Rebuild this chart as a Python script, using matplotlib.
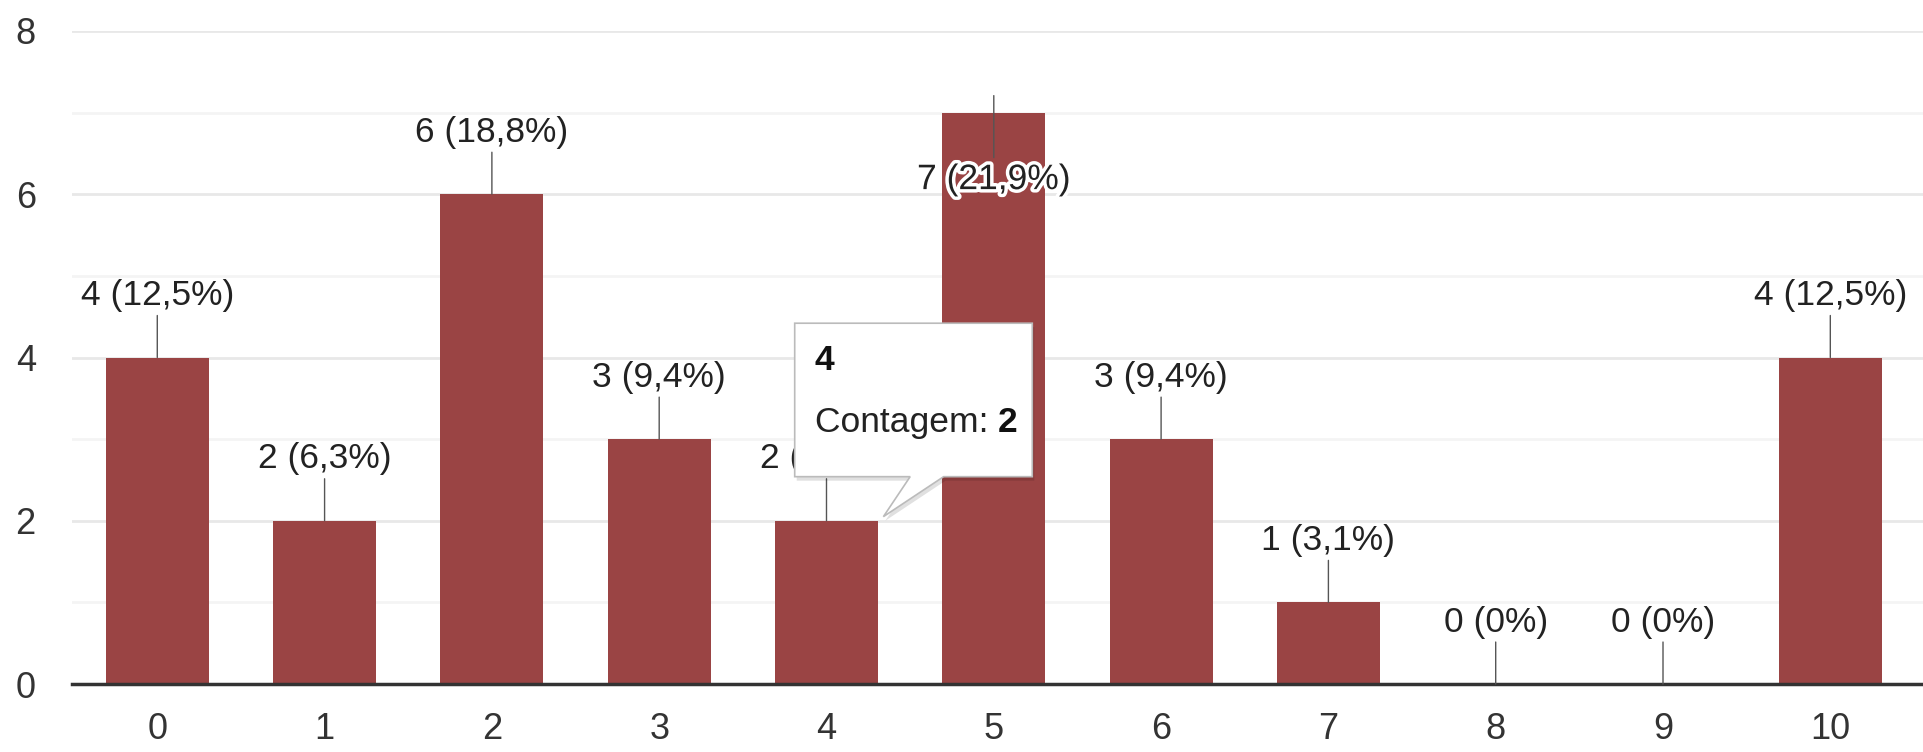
import matplotlib.pyplot as plt
import matplotlib.transforms as mtransforms
from matplotlib.patches import Polygon
import matplotlib.patheffects as pe

# data
categories = ['0', '1', '2', '3', '4', '5', '6', '7', '8', '9', '10']
counts = [4, 2, 6, 3, 2, 7, 3, 1, 0, 0, 4]
percents = [12.5, 6.3, 18.8, 9.4, 6.3, 21.9, 9.4, 3.1, 0, 0, 12.5]
y_ticks = [0, 2, 4, 6, 8]
tooltip_title = '4'
tooltip_label = 'Contagem: '
tooltip_value = '2'

bar_color = '#9a4444'
plt.rcParams['font.family'] = ['Liberation Sans', 'DejaVu Sans']
fsize = 25.5


def pct_label(v, p):
    if p == 0:
        return f"{v} (0%)"
    return f"{v} ({p:.1f}%)".replace('.', ',')


def run():
    fig = plt.figure(figsize=(19.24, 7.52), dpi=100)
    ax = fig.add_axes([0.0374, 0.0904, 0.9626, 0.8684])
    x = list(range(len(categories)))

    ax.bar(x, counts, width=0.616, color=bar_color, zorder=3)
    ax.set_xlim(-0.51, 10.56)
    ax.set_ylim(0, 8)

    # grid
    for v in [1, 3, 5, 7]:
        ax.axhline(v, color='#f4f4f4', lw=2, zorder=1)
    for v in [2, 4, 6, 8]:
        ax.axhline(v, color='#e8e8e8', lw=2, zorder=1)

    for s in ['top', 'right', 'left']:
        ax.spines[s].set_visible(False)
    ax.spines['bottom'].set_color('#333333')
    ax.spines['bottom'].set_linewidth(2.5)
    ax.spines['bottom'].set_zorder(4)

    ax.set_xticks(x)
    ax.set_xticklabels(categories)
    ax.set_yticks(y_ticks)
    ax.tick_params(axis='x', length=0, pad=20, labelsize=26, labelcolor='#333333')
    ax.tick_params(axis='y', length=0, pad=26, labelsize=26, labelcolor='#333333')

    # value labels with leader lines
    halo = [pe.withStroke(linewidth=5, foreground='white')]
    for xi, v, p in zip(x, counts, percents):
        if v >= 7:
            start = mtransforms.offset_copy(ax.transData, fig=fig, y=17, units='dots')
            ax.annotate('', xy=(xi, v), xycoords=start, xytext=(0, -62),
                        textcoords='offset pixels',
                        arrowprops=dict(arrowstyle='-', color='#555555', lw=1,
                                        shrinkA=0, shrinkB=0), zorder=5)
            ax.annotate(pct_label(v, p), xy=(xi, v), xytext=(0, -67),
                        textcoords='offset pixels', ha='center', va='center',
                        fontsize=fsize, color='#222222', path_effects=halo, zorder=6)
        else:
            ax.annotate('', xy=(xi, v), xytext=(0, 42), textcoords='offset pixels',
                        arrowprops=dict(arrowstyle='-', color='#555555', lw=1,
                                        shrinkA=0, shrinkB=0), zorder=5)
            ax.annotate(pct_label(v, p), xy=(xi, v), xytext=(0, 62),
                        textcoords='offset pixels', ha='center', va='center',
                        fontsize=fsize, color='#222222', zorder=6)

    # tooltip over bar "4"
    box = [(3.81, 4.42), (5.23, 4.42), (5.23, 2.54), (4.70, 2.54),
           (4.34, 2.05), (4.50, 2.54), (3.81, 2.54)]
    shadow = Polygon(box, closed=True, facecolor='#000000', alpha=0.12,
                     edgecolor='none', zorder=7,
                     transform=mtransforms.offset_copy(ax.transData, fig=fig,
                                                       x=2, y=-4, units='dots'))
    ax.add_patch(shadow)
    ax.add_patch(Polygon(box, closed=True, facecolor='white', edgecolor='#bbbbbb',
                         lw=1.2, zorder=8))
    ax.text(3.93, 3.96, tooltip_title, fontsize=fsize, fontweight='bold',
            color='#111111', va='center', ha='left', zorder=9)
    t = ax.text(3.93, 3.2, tooltip_label, fontsize=fsize, color='#222222',
                va='center', ha='left', zorder=9)
    ax.annotate(tooltip_value, xy=(1, 0.5), xycoords=t, va='center', ha='left',
                fontsize=fsize, fontweight='bold', color='#111111', zorder=9)

    fig.savefig('out.png', dpi=100)


if __name__ == "__main__":
    run()
